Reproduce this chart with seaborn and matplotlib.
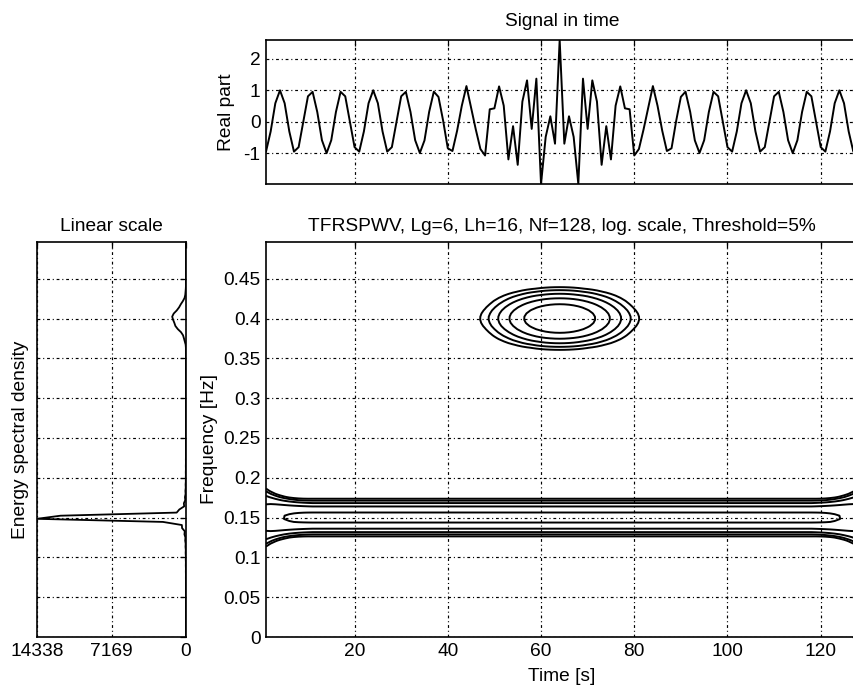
import numpy as np
import pandas as pd
import matplotlib
matplotlib.use("Agg")
import matplotlib.pyplot as plt
import seaborn as sns

# ---------------- data ----------------
# real part of the analysed signal, samples t = 1..128
sig_real = [
    -0.951, -0.309, 0.588, 1.0, 0.588, -0.309, -0.951, -0.809, 0.0, 0.809,
    0.951, 0.309, -0.588, -1.0, -0.588, 0.309, 0.951, 0.809, 0.0, -0.809,
    -0.951, -0.309, 0.588, 1.0, 0.588, -0.309, -0.951, -0.809, 0.0, 0.809,
    0.951, 0.309, -0.588,
    -0.994, -0.595, 0.313, 0.956, 0.790, 0.033, -0.845, -0.932, -0.285, 0.504,
    1.134, 0.450, -0.243, -0.869, -1.074, 0.396, 0.426, 1.124, 0.511, -1.199,
    -0.140, -1.371, 0.641, 1.316, -0.227, 1.370, -1.981, -0.483, 0.173, -0.698,
    2.600, -0.698, 0.173, -0.483, -1.981, 1.370, -0.227, 1.316, 0.641, -1.371,
    -0.140, -1.199, 0.511, 1.124, 0.426, 0.396, -1.074, -0.869, -0.243, 0.450,
    1.134, 0.504, -0.285, -0.932, -0.845, 0.033, 0.790, 0.956, 0.313, -0.595,
    -0.994,
    -0.588, 0.309, 0.951, 0.809, 0.0, -0.809, -0.951, -0.309, 0.588, 1.0,
    0.588, -0.309, -0.951, -0.809, 0.0, 0.809, 0.951, 0.309, -0.588, -1.0,
    -0.588, 0.309, 0.951, 0.809, 0.0, -0.809, -0.951, -0.309, 0.588, 1.0,
    0.588, -0.309, -0.951, -0.809,
]
# imaginary part of the (analytic) signal, samples t = 1..128
sig_imag = [
    -0.309, -0.951, -0.809, 0.0, 0.809, 0.951, 0.309, -0.588, -1.0, -0.588,
    0.309, 0.951, 0.809, 0.0, -0.809, -0.951, -0.309, 0.588, 1.0, 0.588,
    -0.309, -0.951, -0.809, 0.0, 0.809, 0.951, 0.309, -0.588, -1.0, -0.588,
    0.309, 0.951, 0.809,
    0.0, -0.804, -0.962, -0.293, 0.574, 1.0, 0.614, -0.366, -0.876, -0.870,
    0.0, 0.909, 0.747, 0.562, -0.780, -1.0, -0.309, -0.225, 1.574, 0.365,
    0.0, -0.240, -1.974, 0.814, -0.165, 1.0, 1.440, -1.748, 0.534, -1.744,
    0.0, 1.744, -0.534, 1.748, -1.440, -1.0, 0.165, -0.814, 1.974, 0.240,
    0.0, -0.365, -1.574, 0.225, 0.309, 1.0, 0.780, -0.562, -0.747, -0.909,
    0.0, 0.870, 0.876, 0.366, -0.614, -1.0, -0.574, 0.293, 0.962, 0.804,
    0.0,
    -0.809, -0.951, -0.309, 0.588, 1.0, 0.588, -0.309, -0.951, -0.809, 0.0,
    0.809, 0.951, 0.309, -0.588, -1.0, -0.588, 0.309, 0.951, 0.809, 0.0,
    -0.809, -0.951, -0.309, 0.588, 1.0, 0.588, -0.309, -0.951, -0.809, 0.0,
    0.809, 0.951, 0.309, -0.588,
]

time_ticks = [20, 40, 60, 80, 100, 120]
signal_ticks = [-1, 0, 1, 2]
freq_ticks = [0, 0.05, 0.1, 0.15, 0.2, 0.25, 0.3, 0.35, 0.4, 0.45]
freq_tick_labels = ["0", "0.05", "0.1", "0.15", "0.2", "0.25", "0.3", "0.35", "0.4", "0.45"]
esd_ticks = [14338, 7169, 0]
esd_tick_labels = ["14338", "7169", "0"]
Nf = 128
Lg, Lh = 6, 16
threshold_pct = 5
n_levels = 5

title_time = "Signal in time"
title_esd = "Linear scale"
title_tfr = "TFRSPWV, Lg=6, Lh=16, Nf=128, log. scale, Threshold=5%"

# ---------------- processing ----------------
x = np.array(sig_real) + 1j * np.array(sig_imag)
xrow = len(x)
t = np.arange(1, xrow + 1)


def tftb_hamming(n):
    k = np.arange(1, n + 1)
    return 0.54 - 0.46 * np.cos(2.0 * np.pi * k / (n + 1))


def tfrspwv(x, N, Lg, Lh):
    xrow = len(x)
    g = tftb_hamming(2 * Lg + 1)
    g = g / g.sum()
    h = tftb_hamming(2 * Lh + 1)
    h = h / h[Lh]
    tfr = np.zeros((N, xrow), dtype=complex)
    for ti in range(1, xrow + 1):
        taumax = min(ti + Lg - 1, xrow - ti + Lg, round(N / 2) - 1, Lh)
        pts = np.arange(-min(Lg, xrow - ti), min(Lg, ti - 1) + 1)
        g2 = g[Lg + pts]
        g2 = g2 / g2.sum()
        tfr[0, ti - 1] = np.sum(g2 * x[ti - pts - 1] * np.conj(x[ti - pts - 1]))
        for tau in range(1, taumax + 1):
            pts = np.arange(-min(Lg, xrow - ti - tau), min(Lg, ti - tau - 1) + 1)
            g2 = g[Lg + pts]
            g2 = g2 / g2.sum()
            R = np.sum(g2 * x[ti + tau - pts - 1] * np.conj(x[ti - tau - pts - 1]))
            tfr[tau, ti - 1] = h[Lh + tau] * R
            R = np.sum(g2 * x[ti - tau - pts - 1] * np.conj(x[ti + tau - pts - 1]))
            tfr[N - tau, ti - 1] = h[Lh - tau] * R
    return np.real(np.fft.fft(tfr, axis=0))


tfr = tfrspwv(x, Nf, Lg, Lh)
freqs = np.arange(Nf) / (2.0 * Nf)
spec = np.abs(np.fft.fft(x, 2 * Nf)) ** 2
spec = spec[:Nf]

maxi = tfr.max()
mini = max(tfr.min(), maxi * threshold_pct / 100.0)
levels = np.logspace(np.log10(mini), np.log10(maxi), n_levels + 1)[:-1]

df_sig = pd.DataFrame({"t": t, "real": sig_real})
df_spec = pd.DataFrame({"esd": spec, "f": freqs})

# ---------------- figure ----------------
sns.set_theme(style="white")
plt.rcParams["font.family"] = ["Liberation Sans", "DejaVu Sans"]
FS = 13.8
plt.rcParams.update({
    "font.size": FS,
    "text.color": "black",
    "axes.labelcolor": "black",
    "axes.titlecolor": "black",
    "xtick.color": "black",
    "ytick.color": "black",
    "axes.unicode_minus": False,
})

fig = plt.figure(figsize=(8.54, 6.88), dpi=100)
W, H = 854.0, 688.0


def add_axes(x0, y0, x1, y1):
    return fig.add_axes([x0 / W, 1 - y1 / H, (x1 - x0) / W, (y1 - y0) / H])


ax_sig = add_axes(266, 40, 858, 184)
ax_esd = add_axes(37, 242, 186, 637)
ax_tfr = add_axes(266, 242, 858, 637)

grid_kw = dict(color="black", linestyle=(0, (2.4, 2.4, 0.9, 2.4)), linewidth=0.85)


def style(ax):
    for s in ax.spines.values():
        s.set_visible(True)
        s.set_color("black")
        s.set_linewidth(1.2)
    ax.tick_params(direction="in", length=4, width=0.9, top=True, right=True,
                   labelsize=FS, colors="black", labelcolor="black", pad=4)
    ax.grid(True, **grid_kw)
    ax.set_axisbelow(False)


# signal in time
sns.lineplot(data=df_sig, x="t", y="real", ax=ax_sig, color="black",
             linewidth=1.4, sort=False)
ax_sig.set_xlim(1, xrow)
ax_sig.set_ylim(min(sig_real), max(sig_real))
ax_sig.set_xticks(time_ticks)
ax_sig.set_xticklabels([])
ax_sig.set_yticks(signal_ticks)
ax_sig.set_xlabel("")
ax_sig.set_ylabel("Real part", fontsize=FS, labelpad=6, color="black")
ax_sig.set_title(title_time, fontsize=FS, pad=10, color="black")
style(ax_sig)

# energy spectral density
sns.lineplot(data=df_spec, x="esd", y="f", ax=ax_esd, color="black",
             linewidth=1.3, sort=False, orient="y")
ax_esd.set_xlim(esd_ticks[0], 0)
ax_esd.set_ylim(0, freqs[-1])
ax_esd.set_xticks(esd_ticks)
ax_esd.set_xticklabels(esd_tick_labels)
ax_esd.set_yticks(freq_ticks)
ax_esd.set_yticklabels([])
ax_esd.set_xlabel("")
ax_esd.set_ylabel("Energy spectral density", fontsize=FS, labelpad=2, color="black")
ax_esd.set_title(title_esd, fontsize=FS, pad=8, color="black")
style(ax_esd)

# time-frequency representation
ax_tfr.contour(t, freqs, tfr, levels=levels, colors="black", linewidths=1.4)
ax_tfr.set_xlim(1, xrow)
ax_tfr.set_ylim(0, freqs[-1])
ax_tfr.set_xticks(time_ticks)
ax_tfr.set_yticks(freq_ticks)
ax_tfr.set_yticklabels(freq_tick_labels)
ax_tfr.set_xlabel("Time [s]", fontsize=FS, labelpad=6, color="black")
ax_tfr.set_ylabel("Frequency [Hz]", fontsize=FS, labelpad=4, color="black")
ax_tfr.set_title(title_tfr, fontsize=FS, pad=8, color="black")
style(ax_tfr)

fig.savefig("out.png", dpi=100, facecolor="white")
